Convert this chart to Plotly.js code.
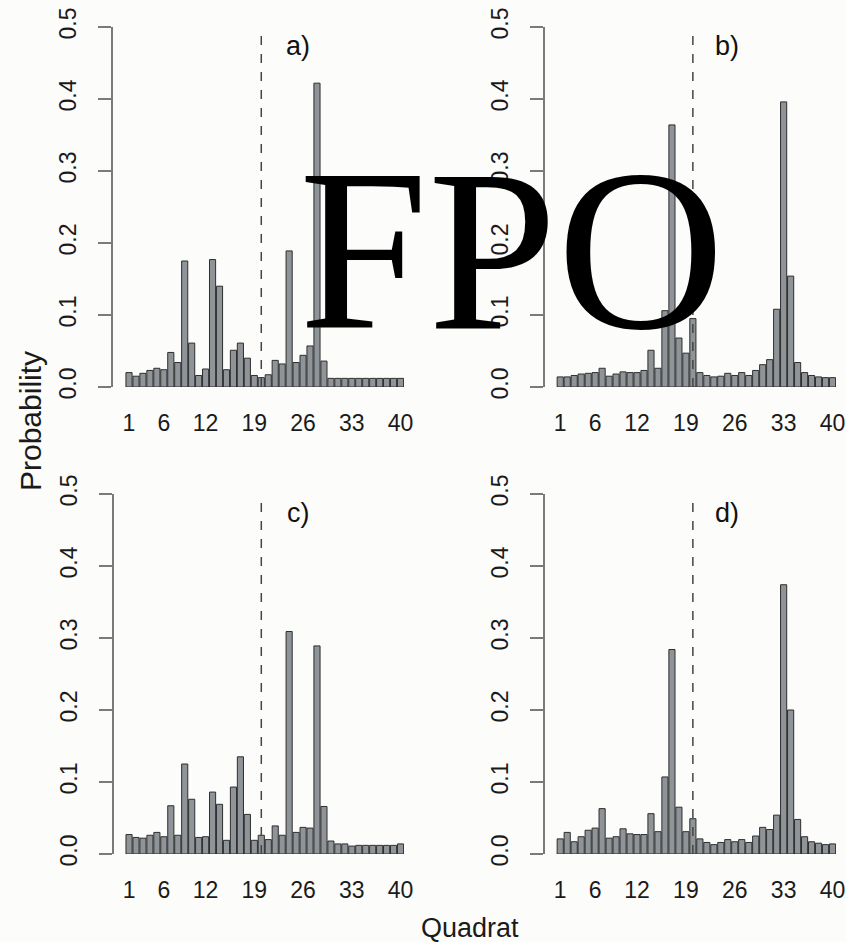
<!DOCTYPE html>
<html>
<head>
<meta charset="utf-8">
<script src="https://cdn.plot.ly/plotly-3.0.1.min.js"></script>
<style>html,body{margin:0;padding:0;background:#fcfcfa;}#chart{width:846px;height:942px;}</style>
</head>
<body>
<div id="chart"></div>
<script>
// Quadrat numbers 1..40
const quadrats = [1,2,3,4,5,6,7,8,9,10,11,12,13,14,15,16,17,18,19,20,21,22,23,24,25,26,27,28,29,30,31,32,33,34,35,36,37,38,39,40];
const xTickVals = [1,6,12,19,26,33,40];
const yTickVals = [0,0.1,0.2,0.3,0.4,0.5];
const yTickText = ["0.0","0.1","0.2","0.3","0.4","0.5"];
const panelLabels = ["a)","b)","c)","d)"];
const dividerQuadrat = 20;

const probA = [0.020,0.015,0.019,0.023,0.026,0.024,0.048,0.034,0.175,0.061,0.016,0.025,0.177,0.140,0.024,0.051,0.061,0.040,0.016,0.013,0.017,0.037,0.032,0.189,0.034,0.044,0.057,0.422,0.036,0.012,0.012,0.012,0.012,0.012,0.012,0.012,0.012,0.012,0.012,0.012];
const probB = [0.014,0.014,0.016,0.018,0.019,0.020,0.026,0.015,0.018,0.021,0.020,0.020,0.023,0.051,0.026,0.106,0.364,0.068,0.047,0.095,0.020,0.016,0.014,0.015,0.019,0.016,0.020,0.016,0.023,0.031,0.038,0.108,0.396,0.154,0.034,0.020,0.016,0.014,0.013,0.013];
const probC = [0.027,0.023,0.022,0.026,0.030,0.024,0.067,0.026,0.125,0.076,0.023,0.024,0.086,0.069,0.019,0.093,0.135,0.055,0.019,0.026,0.020,0.039,0.026,0.309,0.030,0.037,0.036,0.289,0.066,0.018,0.014,0.014,0.011,0.012,0.012,0.012,0.012,0.012,0.012,0.014];
const probD = [0.021,0.030,0.017,0.024,0.033,0.036,0.063,0.022,0.024,0.035,0.028,0.027,0.027,0.056,0.031,0.107,0.284,0.065,0.031,0.049,0.021,0.016,0.013,0.016,0.020,0.017,0.020,0.016,0.025,0.037,0.034,0.054,0.374,0.200,0.048,0.024,0.017,0.015,0.013,0.014];

const W = 846, H = 942;
const FONT = "Liberation Sans, Arial, Helvetica, sans-serif";
const series = [probA, probB, probC, probD];
// pixel geometry of each panel: axis line x, right edge, top (0.5), bottom (0.0), x-range left
const panels = [
  {x0:113, x1:404, top:27,  bot:387, xmin:-1.30, lx:298, ly:46},
  {x0:545, x1:836, top:27,  bot:387, xmin:-1.18, lx:727, ly:46},
  {x0:114, x1:404, top:494, bot:854, xmin:-1.16, lx:298, ly:513},
  {x0:545, x1:836, top:494, bot:854, xmin:-1.18, lx:727, ly:513}
];

const data = [];
const layout = {
  width: W, height: H,
  margin: {l:0, r:0, t:0, b:0},
  paper_bgcolor: "#fcfcfa",
  plot_bgcolor: "rgba(0,0,0,0)",
  showlegend: false,
  bargap: 0.12,
  font: {family: FONT, color: "#1a1a1a"},
  shapes: [],
  annotations: []
};

panels.forEach((p, i) => {
  const n = i === 0 ? "" : String(i + 1);
  data.push({
    type: "bar",
    x: quadrats,
    y: series[i],
    xaxis: "x" + n,
    yaxis: "y" + n,
    marker: {color: "#8f9499", line: {color: "#2e2e2e", width: 1}},
    hoverinfo: "x+y"
  });
  layout["xaxis" + n] = {
    domain: [p.x0 / W, p.x1 / W],
    range: [p.xmin, 40.5],
    anchor: "y" + n,
    showline: false, showgrid: false, zeroline: false,
    tickmode: "array", tickvals: xTickVals,
    ticks: "outside", ticklen: 15, tickcolor: "rgba(0,0,0,0)",
    tickfont: {size: 23, family: FONT, color: "#1a1a1a"}
  };
  layout["yaxis" + n] = {
    domain: [1 - p.bot / H, 1 - p.top / H],
    range: [0, 0.5],
    anchor: "x" + n,
    showline: true, linecolor: "#7a7a7a", linewidth: 2,
    showgrid: false, zeroline: false,
    tickmode: "array", tickvals: yTickVals, ticktext: yTickText,
    ticks: "outside", ticklen: 13, tickwidth: 2, tickcolor: "#7a7a7a",
    tickangle: -90, ticklabelstandoff: 13,
    tickfont: {size: 23, family: FONT, color: "#1a1a1a"}
  };
  layout.shapes.push({
    type: "line", xref: "x" + n, yref: "y" + n,
    x0: dividerQuadrat, x1: dividerQuadrat, y0: 0, y1: 0.496,
    line: {color: "#444", width: 1.5, dash: "dash"}
  });
  layout.annotations.push({
    text: panelLabels[i], xref: "paper", yref: "paper",
    x: p.lx / W, y: 1 - p.ly / H, xanchor: "center", yanchor: "middle",
    showarrow: false, font: {size: 27, family: FONT, color: "#111"}
  });
});

layout.annotations.push({
  text: "Probability", xref: "paper", yref: "paper",
  x: 30 / W, y: 1 - 421 / H, xanchor: "center", yanchor: "middle",
  textangle: -90, showarrow: false, font: {size: 30, family: FONT, color: "#1a1a1a"}
});
layout.annotations.push({
  text: "Quadrat", xref: "paper", yref: "paper",
  x: 470 / W, y: 1 - 928 / H, xanchor: "center", yanchor: "middle",
  showarrow: false, font: {size: 27, family: FONT, color: "#1a1a1a"}
});
layout.annotations.push({
  text: "FPO", xref: "paper", yref: "paper",
  x: 512 / W, y: 1 - 250 / H, xanchor: "center", yanchor: "middle",
  showarrow: false, font: {size: 232, family: "Liberation Serif, Times New Roman, serif", color: "#000"}
});

Plotly.newPlot("chart", data, layout, {staticPlot: true, displayModeBar: false});
</script>
</body>
</html>
